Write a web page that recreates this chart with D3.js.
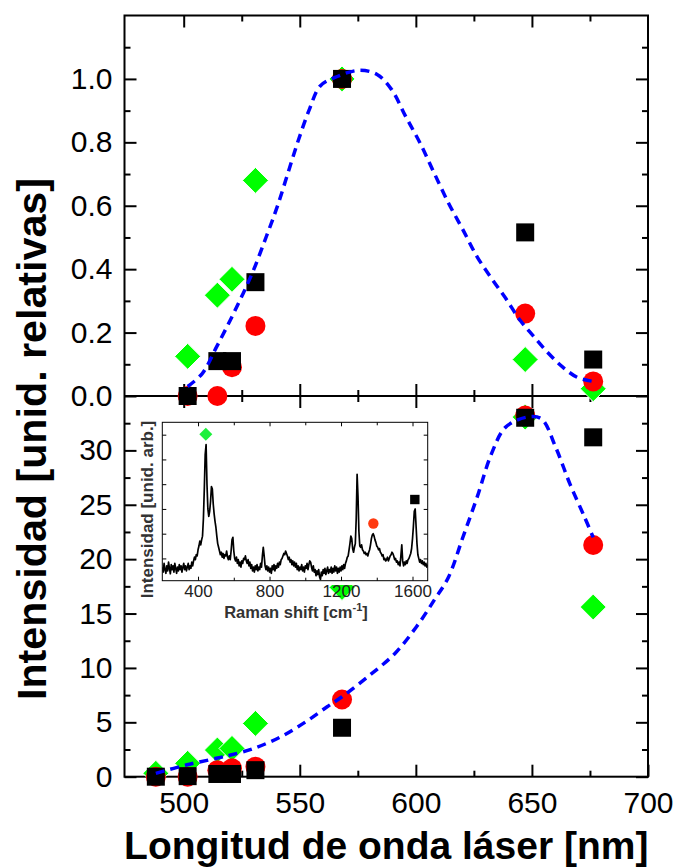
<!DOCTYPE html>
<html><head><meta charset="utf-8">
<script src="https://cdn.jsdelivr.net/npm/d3@7/dist/d3.min.js"></script>
<style>
html,body{margin:0;padding:0;background:#fff;}
svg{display:block;font-family:"Liberation Sans",Arial,Helvetica,sans-serif;}
</style></head><body>
<svg id="chart" width="676" height="867"></svg>
<script>
// Excitation laser wavelengths (nm)
const wavelengths = [488.0, 501.7, 514.5, 520.8, 530.9, 568.2, 647.1, 676.4];

// Upper panel: relative intensities (null = not measured)
const relGreen = [null, 0.125, 0.318, 0.368, 0.68, 1.0, 0.115, 0.023];
const relRed   = [null, 0.0,   0.0,   0.091, 0.221, 1.0, 0.26, 0.046];
const relBlack = [null, 0.0,   0.11,  0.11,  0.359, 1.0, 0.516, 0.115];

// Lower panel: absolute intensities
const absGreen = [0.31, 1.23, 2.45, 2.6, 4.9, 17.4, 33.06, 15.6];
const absRed   = [0.0,  0.0,  0.6,  0.77, 0.92, 7.1, 33.2, 21.3];
const absBlack = [0.0,  0.05, 0.25, 0.25, 0.6,  4.5, 33.0, 31.2];

// Guide curves (dashed)
const relCurveNm  = [501.7, 507.9, 514.1, 521.8, 529.5, 535.6, 540.3, 544.9, 549.5, 554.1, 558.7, 564.9, 575.6, 583.3, 589.5, 595.6, 601.8, 607.9, 614.1, 620.3, 626.4, 632.6, 638.7, 644.9, 651.0, 657.2, 663.3, 669.5, 676.4];
const relCurveVal = [0.03, 0.07, 0.154, 0.265, 0.387, 0.503, 0.597, 0.703, 0.809, 0.903, 0.977, 1.004, 1.027, 1.014, 0.967, 0.882, 0.798, 0.703, 0.608, 0.524, 0.439, 0.371, 0.308, 0.239, 0.186, 0.134, 0.091, 0.059, 0.046];
const absCurveNm  = [488.0, 501.0, 514.1, 520.2, 530.2, 541.8, 552.6, 561.8, 568.2, 580.2, 591.0, 600.2, 607.9, 614.1, 620.3, 626.4, 632.6, 638.7, 647.9, 654.1, 660.2, 666.4, 672.6, 676.4];
const absCurveVal = [0.31, 1.07, 1.69, 1.99, 2.6, 3.67, 5.05, 6.43, 7.35, 9.34, 11.33, 13.77, 16.23, 18.37, 22.04, 25.7, 29.7, 32.14, 33.06, 32.9, 30.3, 26.9, 23.9, 22.0];

// Tick values
const xLabelTicks = [500, 550, 600, 650, 700];
const xMinorTicks = [525, 575, 625, 675];
const relLabelTicks = [0, 0.2, 0.4, 0.6, 0.8, 1.0];
const relMinorTicks = [0.1, 0.3, 0.5, 0.7, 0.9, 1.1];
const absLabelTicks = [0, 5, 10, 15, 20, 25, 30];
const absMinorTicks = [2.5, 7.5, 12.5, 17.5, 22.5, 27.5, 32.5];

// Inset: Raman spectrum sampled every 5 cm-1 from 200 cm-1
const ramanStart = 200, ramanStep = 5;
const ramanIntensity = [
  -0.35, -0.55, -0.2, -0.45, -0.6, -0.3, -0.5, -0.15, -0.4, -0.62,
  -0.25, -0.45, -0.3, -0.55, -0.2, -0.4, -0.6, -0.35, -0.5, -0.25,
  -0.45, -0.3, -0.55, -0.35, -0.2, -0.45, -0.3, -0.5, -0.35, -0.2,
  -0.45, -0.3, -0.4, -0.15, -0.3, -0.1, 0.05, -0.05, 0.15, 0.1,
  0.35, 0.5, 0.7, 0.55, 0.75, 0.9, 1.6, 2.8, 4.2, 4.6,
  3.0, 2.0, 1.7, 1.9, 2.3, 2.9, 2.8, 2.2, 1.8, 1.5,
  1.25, 0.9, 0.6, 0.45, 0.3, 0.15, 0.25, 0.05, 0.2, 0.0,
  0.15, 0.1, 0.3, 0.05, -0.05, 0.1, -0.05, 0.3, 0.75, 0.85,
  0.3, 0.0, -0.1, 0.05, -0.2, -0.05, -0.3, -0.15, -0.35, -0.1,
  -0.2, 0.0, -0.05, 0.1, -0.1, -0.2, -0.05, -0.3, -0.15, -0.4,
  -0.25, -0.5, -0.35, -0.55, -0.3, -0.45, -0.25, -0.5, -0.35, -0.45,
  -0.2, -0.35, 0.1, 0.45, 0.1, -0.3, -0.45, -0.3, -0.5, -0.35,
  -0.55, -0.4, -0.6, -0.3, -0.45, -0.25, -0.5, -0.3, -0.4, -0.2,
  -0.35, -0.15, -0.25, -0.05, 0.0, 0.1, 0.2, 0.15, 0.3, 0.2,
  0.1, -0.05, 0.05, -0.15, -0.05, -0.25, -0.1, -0.3, -0.15, -0.35,
  -0.2, -0.45, -0.3, -0.5, -0.35, -0.45, -0.25, -0.5, -0.35, -0.55,
  -0.3, -0.4, -0.2, -0.45, -0.25, -0.1, -0.15, -0.35, -0.5, -0.3,
  -0.55, -0.45, -0.7, -0.5, -0.65, -0.45, -0.75, -0.85, -0.55, -0.7,
  -0.45, -0.6, -0.4, -0.65, -0.5, -0.35, -0.6, -0.45, -0.55, -0.35,
  -0.6, -0.4, -0.55, -0.3, -0.5, -0.35, -0.6, -0.4, -0.55, -0.35,
  -0.5, -0.3, -0.45, -0.25, -0.4, -0.2, -0.1, 0.05, 0.1, 0.35,
  0.6, 0.9, 0.8, 0.4, 0.25, 0.45, 0.6, 1.6, 3.4, 2.5,
  1.1, 0.5, 0.45, 0.55, 0.35, 0.3, 0.2, 0.25, 0.15, 0.2,
  0.1, 0.25, 0.35, 0.55, 0.8, 0.95, 1.0, 0.9, 0.75, 0.65,
  0.5, 0.45, 0.35, 0.4, 0.25, 0.2, 0.1, 0.15, -0.05, 0.0,
  -0.1, -0.05, 0.05, -0.1, 0.0, 0.1, 0.15, 0.25, 0.2, 0.1,
  -0.05, 0.0, -0.15, -0.1, -0.25, -0.15, -0.3, 0.1, 0.55, -0.1,
  -0.3, -0.15, -0.25, -0.1, -0.2, -0.05, 0.0, 0.1, 0.2, 0.4,
  0.8, 1.3, 1.9, 2.0, 1.3, 0.6, 0.15, 0.0, -0.15, -0.05,
  -0.2, -0.1, -0.25, -0.15, -0.3, -0.2, -0.35, -0.25
];
// Marked bands in the spectrum
const peakShifts = [443.6, 1381, 1613];
const peakLevels = [5.02, 1.41, 2.38];
const ramanLabelTicks = [400, 800, 1200, 1600];
const ramanMinorTicks = [600, 1000, 1400];
const ramanYTicks = [0, 1, 2, 3, 4, 5];

const svg = d3.select('#chart');
const FRAME = {l: 124.5, r: 648, t: 15.5, m: 396, b: 776.7};

const x = d3.scaleLinear().domain([474.5, 700]).range([FRAME.l, FRAME.r]);
const yRel = d3.scaleLinear().domain([0, 1.2]).range([FRAME.m, FRAME.t]);
const yAbs = d3.scaleLinear().domain([0, 35]).range([FRAME.b, FRAME.m]);

// ---- frame
svg.append('rect').attr('x', FRAME.l).attr('y', FRAME.t)
  .attr('width', FRAME.r - FRAME.l).attr('height', FRAME.b - FRAME.t)
  .attr('fill', 'none').attr('stroke', '#000').attr('stroke-width', 2);
svg.append('line').attr('x1', FRAME.l).attr('x2', FRAME.r)
  .attr('y1', FRAME.m).attr('y2', FRAME.m).attr('stroke', '#000').attr('stroke-width', 2);

function drawAxis(axis, tx, ty, fontSize, sw) {
  const g = svg.append('g').attr('transform', `translate(${tx},${ty})`).call(axis);
  g.select('.domain').remove();
  g.attr('font-family', null).attr('font-size', fontSize);
  g.selectAll('line').attr('stroke', '#000').attr('stroke-width', sw);
  g.selectAll('text').attr('fill', '#000');
  return g;
}
const noLabel = () => '';

// x axes (bottom, middle divider both ways, top)
drawAxis(d3.axisBottom(x).tickValues(xLabelTicks).tickSize(-12).tickPadding(15).tickFormat(d3.format('d')), 0, FRAME.b, 30, 2);
drawAxis(d3.axisBottom(x).tickValues(xMinorTicks).tickSize(-6).tickFormat(noLabel), 0, FRAME.b, 30, 2);
drawAxis(d3.axisBottom(x).tickValues(xLabelTicks.slice(0, 4)).tickSize(-12).tickFormat(noLabel), 0, FRAME.m, 30, 2);
drawAxis(d3.axisBottom(x).tickValues(xMinorTicks).tickSize(-6).tickFormat(noLabel), 0, FRAME.m, 30, 2);
drawAxis(d3.axisTop(x).tickValues(xLabelTicks.slice(0, 4)).tickSize(-12).tickFormat(noLabel), 0, FRAME.m, 30, 2);
drawAxis(d3.axisTop(x).tickValues(xMinorTicks).tickSize(-6).tickFormat(noLabel), 0, FRAME.m, 30, 2);
drawAxis(d3.axisTop(x).tickValues(xLabelTicks.slice(0, 4)).tickSize(-12).tickFormat(noLabel), 0, FRAME.t, 30, 2);
drawAxis(d3.axisTop(x).tickValues(xMinorTicks).tickSize(-6).tickFormat(noLabel), 0, FRAME.t, 30, 2);

// y axes, upper panel
drawAxis(d3.axisLeft(yRel).tickValues(relLabelTicks).tickSize(-12).tickPadding(12).tickFormat(d3.format('.1f')), FRAME.l, 0, 30, 2);
drawAxis(d3.axisLeft(yRel).tickValues(relMinorTicks).tickSize(-6).tickFormat(noLabel), FRAME.l, 0, 30, 2);
drawAxis(d3.axisRight(yRel).tickValues(relLabelTicks).tickSize(-12).tickFormat(noLabel), FRAME.r, 0, 30, 2);
drawAxis(d3.axisRight(yRel).tickValues(relMinorTicks).tickSize(-6).tickFormat(noLabel), FRAME.r, 0, 30, 2);
// y axes, lower panel
drawAxis(d3.axisLeft(yAbs).tickValues(absLabelTicks).tickSize(-12).tickPadding(12).tickFormat(d3.format('d')), FRAME.l, 0, 30, 2);
drawAxis(d3.axisLeft(yAbs).tickValues(absMinorTicks).tickSize(-6).tickFormat(noLabel), FRAME.l, 0, 30, 2);
drawAxis(d3.axisRight(yAbs).tickValues(absLabelTicks).tickSize(-12).tickFormat(noLabel), FRAME.r, 0, 30, 2);
drawAxis(d3.axisRight(yAbs).tickValues(absMinorTicks).tickSize(-6).tickFormat(noLabel), FRAME.r, 0, 30, 2);

// ---- markers
const diamondPath = h => `M0,${-h}L${h},0L0,${h}L${-h},0Z`;
function drawSeries(values, y, kind) {
  const pts = wavelengths.map((w, i) => ({w, v: values[i]})).filter(d => d.v !== null);
  const g = svg.append('g');
  if (kind === 'diamond') {
    g.selectAll('path').data(pts).join('path')
      .attr('d', diamondPath(13))
      .attr('transform', d => `translate(${x(d.w)},${y(d.v)})`)
      .attr('fill', '#00ff00').attr('stroke', '#fff').attr('stroke-width', 1);
  } else if (kind === 'circle') {
    g.selectAll('circle').data(pts).join('circle')
      .attr('cx', d => x(d.w)).attr('cy', d => y(d.v)).attr('r', 10)
      .attr('fill', '#ff0000');
  } else {
    g.selectAll('rect').data(pts).join('rect')
      .attr('x', d => x(d.w) - 9).attr('y', d => y(d.v) - 9)
      .attr('width', 18).attr('height', 18).attr('fill', '#000');
  }
}
drawSeries(relGreen, yRel, 'diamond');
drawSeries(relRed, yRel, 'circle');
drawSeries(relBlack, yRel, 'square');
drawSeries(absGreen, yAbs, 'diamond');
drawSeries(absRed, yAbs, 'circle');
drawSeries(absBlack, yAbs, 'square');

// ---- dashed guide curves
function drawCurve(nm, vals, y) {
  const line = d3.line().x(d => x(d[0])).y(d => y(d[1])).curve(d3.curveCatmullRom.alpha(0.5));
  svg.append('path').datum(nm.map((w, i) => [w, vals[i]]))
    .attr('d', line).attr('fill', 'none').attr('stroke', '#0000ff')
    .attr('stroke-width', 3.5).attr('stroke-dasharray', '9,6');
}
drawCurve(relCurveNm, relCurveVal, yRel);
drawCurve(absCurveNm, absCurveVal, yAbs);

// ---- axis titles
svg.append('text').attr('x', (FRAME.l + FRAME.r) / 2).attr('y', 859)
  .attr('text-anchor', 'middle').attr('font-size', 39).attr('font-weight', 'bold')
  .text('Longitud de onda láser [nm]');
svg.append('text').attr('transform', 'translate(46,439) rotate(-90)')
  .attr('text-anchor', 'middle').attr('font-size', 40).attr('font-weight', 'bold')
  .attr('textLength', 522).attr('lengthAdjust', 'spacingAndGlyphs')
  .text('Intensidad [unid. relativas]');

// ---- inset: Raman spectrum
const IN = {l: 162.3, r: 427.7, t: 422.3, b: 580.7};
const ix = d3.scaleLinear().domain([200, 1685]).range([IN.l, IN.r]);
const iy = d3.scaleLinear().domain([-0.9, 5.5]).range([IN.b, IN.t]);
const inset = svg.append('g');
inset.append('rect').attr('x', IN.l).attr('y', IN.t).attr('width', IN.r - IN.l)
  .attr('height', 585 - IN.t).attr('fill', '#fff');
svg.append('clipPath').attr('id', 'insetClip').append('rect')
  .attr('x', IN.l).attr('y', IN.t).attr('width', IN.r - IN.l).attr('height', IN.b - IN.t);
inset.append('path').datum(ramanIntensity)
  .attr('clip-path', 'url(#insetClip)')
  .attr('d', d3.line().x((d, i) => ix(ramanStart + i * ramanStep)).y(d => iy(d)))
  .attr('fill', 'none').attr('stroke', '#000').attr('stroke-width', 1.7).attr('stroke-linejoin', 'round');
inset.append('rect').attr('x', IN.l).attr('y', IN.t).attr('width', IN.r - IN.l)
  .attr('height', IN.b - IN.t).attr('fill', 'none').attr('stroke', '#000').attr('stroke-width', 1);

function insetAxis(axis, tx, ty) {
  const g = inset.append('g').attr('transform', `translate(${tx},${ty})`).call(axis);
  g.select('.domain').remove();
  g.attr('font-family', null).attr('font-size', 17);
  g.selectAll('line').attr('stroke', '#000').attr('stroke-width', 1);
  g.selectAll('text').attr('fill', '#222');
  return g;
}
insetAxis(d3.axisBottom(ix).tickValues(ramanLabelTicks).tickSize(-4).tickPadding(4).tickFormat(d3.format('d')), 0, IN.b);
insetAxis(d3.axisBottom(ix).tickValues(ramanMinorTicks).tickSize(-3).tickFormat(noLabel), 0, IN.b);
insetAxis(d3.axisTop(ix).tickValues(ramanLabelTicks).tickSize(-4).tickFormat(noLabel), 0, IN.t);
insetAxis(d3.axisTop(ix).tickValues(ramanMinorTicks).tickSize(-3).tickFormat(noLabel), 0, IN.t);
insetAxis(d3.axisLeft(iy).tickValues(ramanYTicks).tickSize(-4).tickFormat(noLabel), IN.l, 0);
insetAxis(d3.axisRight(iy).tickValues(ramanYTicks).tickSize(-4).tickFormat(noLabel), IN.r, 0);

// band markers
inset.append('path').attr('d', diamondPath(6.5))
  .attr('transform', `translate(${ix(peakShifts[0])},${iy(peakLevels[0])})`).attr('fill', '#1cf03c');
inset.append('circle').attr('cx', ix(peakShifts[1])).attr('cy', iy(peakLevels[1]))
  .attr('r', 5.2).attr('fill', '#ff3a10');
inset.append('rect').attr('x', ix(peakShifts[2]) - 4.7).attr('y', iy(peakLevels[2]) - 4.7)
  .attr('width', 9.4).attr('height', 9.4).attr('fill', '#000');

// inset titles
const rl = inset.append('text').attr('x', 296).attr('y', 618).attr('text-anchor', 'middle')
  .attr('font-size', 16.5).attr('font-weight', 'bold').attr('fill', '#333');
rl.append('tspan').text('Raman shift [cm');
rl.append('tspan').attr('font-size', 11).attr('dy', -7).text('-1');
rl.append('tspan').attr('dy', 7).text(']');
inset.append('text').attr('transform', 'translate(153,509.5) rotate(-90)')
  .attr('text-anchor', 'middle').attr('font-size', 17).attr('font-weight', 'bold').attr('fill', '#333')
  .text('Intensidad [unid. arb.]');
</script>
</body></html>
